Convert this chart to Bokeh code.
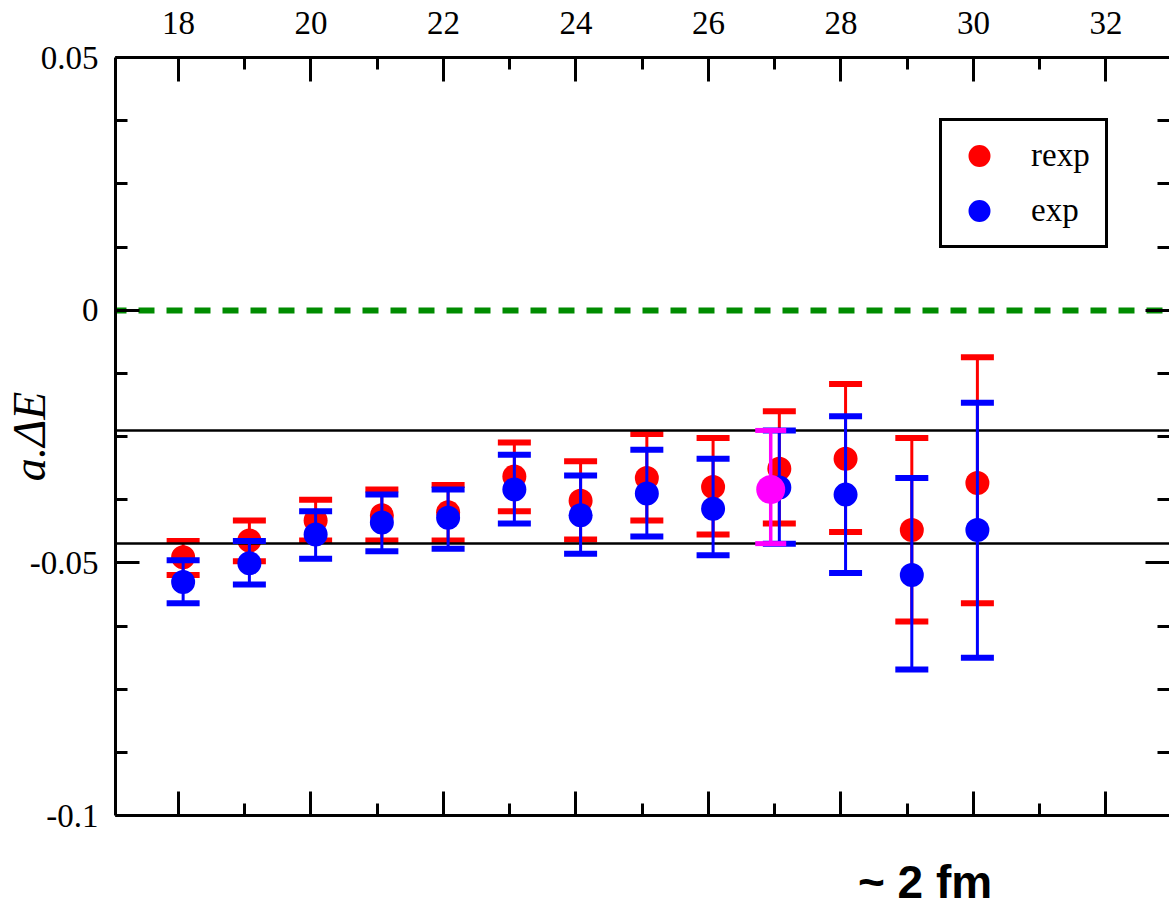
from bokeh.plotting import figure
from bokeh.models import Range1d, LinearAxis, FixedTicker, CustomJSTickFormatter
from bokeh.embed import file_html
from bokeh.resources import INLINE

# ---------------- data ----------------
x_pts = [18.07, 19.07, 20.07, 21.07, 22.07, 23.07, 24.07, 25.07, 26.07, 27.07, 28.07, 29.07, 30.06]

rexp_y = [-0.0489, -0.0456, -0.0416, -0.0406, -0.0400, -0.0329, -0.0377, -0.0332, -0.0350, -0.0314, -0.0294, -0.0435, -0.0342]
rexp_hi = [-0.0457, -0.0416, -0.0375, -0.0355, -0.0346, -0.0262, -0.0299, -0.0245, -0.0253, -0.0200, -0.0146, -0.0253, -0.0093]
rexp_lo = [-0.0524, -0.0497, -0.0456, -0.0456, -0.0456, -0.0398, -0.0454, -0.0416, -0.0444, -0.0422, -0.0439, -0.0616, -0.0580]

exp_y = [-0.0538, -0.0501, -0.0444, -0.0420, -0.0411, -0.0355, -0.0406, -0.0363, -0.0393, -0.0351, -0.0365, -0.0524, -0.0435]
exp_hi = [-0.0495, -0.0457, -0.0398, -0.0365, -0.0355, -0.0286, -0.0327, -0.0276, -0.0294, -0.0238, -0.0210, -0.0332, -0.0183]
exp_lo = [-0.0580, -0.0543, -0.0492, -0.0477, -0.0472, -0.0422, -0.0482, -0.0448, -0.0485, -0.0462, -0.0520, -0.0711, -0.0688]

fit_x = [26.94]
fit_y = [-0.0355]
fit_hi = [-0.0238]
fit_lo = [-0.0462]

zero_line = [0.0]

x_ticks = [18, 20, 22, 24, 26, 28, 30, 32]
x_minor = [17, 19, 21, 23, 25, 27, 29, 31, 33]
y_ticks = [-0.1, -0.05, 0.0, 0.05]
y_tick_labels = ["-0.1", "-0.05", "0", "0.05"]
y_minor = [-0.1, -0.0875, -0.075, -0.0625, -0.05, -0.0375, -0.025, -0.0125, 0.0,
           0.0125, 0.025, 0.0375, 0.05]

x_lim = (17.049, 32.96)
y_lim = (-0.1, 0.05)

y_title = "a.\u0394E"
note_text = "~ 2 fm"
note_x = 29.27

# ---------------- figure ----------------
p = figure(width=1169, height=911, x_range=Range1d(*x_lim), y_range=Range1d(*y_lim),
           x_axis_location="above", output_backend="svg", toolbar_location=None,
           min_border_left=115, min_border_top=57, min_border_bottom=96, min_border_right=0)
p.grid.visible = False
p.outline_line_color = None
p.background_fill_color = "white"
p.border_fill_color = "white"

SERIF = "Liberation Serif"
blank = CustomJSTickFormatter(code="return ''")


def style_axis(ax, show_labels=True, show_line=True):
    ax.axis_line_width = 3
    ax.axis_line_color = "black" if show_line else None
    ax.major_tick_in = 24
    ax.major_tick_out = 0
    ax.minor_tick_in = 12
    ax.minor_tick_out = 0
    ax.major_tick_line_width = 3
    ax.minor_tick_line_width = 3
    ax.major_tick_line_color = "black"
    ax.minor_tick_line_color = "black"
    ax.major_label_text_font = SERIF
    ax.major_label_text_color = "black"
    ax.major_label_text_font_size = "33px"
    if show_labels:
        ax.major_label_standoff = 17
    else:
        ax.formatter = blank
        ax.major_label_standoff = 0


xt = FixedTicker(ticks=x_ticks, minor_ticks=x_minor)
yt = FixedTicker(ticks=y_ticks, minor_ticks=y_minor)

top = p.xaxis[0]
top.ticker = xt
style_axis(top)
top.major_label_standoff = 24

left = p.yaxis[0]
left.ticker = yt
left.major_label_overrides = dict(zip(y_ticks, y_tick_labels))
style_axis(left)
left.axis_label = y_title
left.axis_label_text_font = SERIF
left.axis_label_text_font_style = "italic"
left.axis_label_text_font_size = "46px"
left.axis_label_text_color = "black"
left.axis_label_standoff = -28

bottom = LinearAxis(ticker=xt)
style_axis(bottom, show_labels=False)
p.add_layout(bottom, "below")

right = LinearAxis(ticker=yt)
style_axis(right, show_labels=False, show_line=False)
p.add_layout(right, "right")

# annotation "~ 2 fm" below the frame, carried by a bare axis
note_axis = LinearAxis(ticker=FixedTicker(ticks=[note_x], minor_ticks=[]))
note_axis.axis_line_color = None
note_axis.major_tick_line_color = None
note_axis.minor_tick_line_color = None
note_axis.major_tick_in = 0
note_axis.major_tick_out = 0
note_axis.minor_tick_in = 0
note_axis.minor_tick_out = 0
note_axis.major_label_overrides = {note_x: note_text}
note_axis.major_label_text_font = "Liberation Sans"
note_axis.major_label_text_font_style = "bold"
note_axis.major_label_text_font_size = "46px"
note_axis.major_label_text_color = "black"
note_axis.major_label_standoff = 40
p.add_layout(note_axis, "below")

# ---------------- reference line at zero ----------------
p.hspan(y=zero_line, line_color="#008c00", line_width=6, line_dash="16 12", line_dash_offset=5)

RED = "#ff0000"
BLUE = "#0000ff"
MAG = "#ff00ff"

# ---------------- rexp (red) ----------------
p.segment(x0=x_pts, y0=rexp_lo, x1=x_pts, y1=rexp_hi, line_color=RED, line_width=3)
p.scatter(x_pts + x_pts, rexp_hi + rexp_lo, marker="dash", size=33, line_width=6, line_color=RED)
p.scatter(x_pts, rexp_y, marker="circle", size=24, fill_color=RED, line_color=None,
          legend_label="rexp")

# band lines from the plateau fit
p.hspan(y=fit_lo + fit_hi, line_color="black", line_width=2.5)

# ---------------- exp (blue) ----------------
p.segment(x0=x_pts, y0=exp_lo, x1=x_pts, y1=exp_hi, line_color=BLUE, line_width=3)
p.scatter(x_pts + x_pts, exp_hi + exp_lo, marker="dash", size=33, line_width=6, line_color=BLUE)
p.scatter(x_pts, exp_y, marker="circle", size=24, fill_color=BLUE, line_color=None,
          legend_label="exp")

# ---------------- fit point (magenta) ----------------
p.segment(x0=fit_x, y0=fit_lo, x1=fit_x, y1=fit_hi, line_color=MAG, line_width=3.5)
p.scatter(fit_x + fit_x, fit_hi + fit_lo, marker="dash", size=31, line_width=5, line_color=MAG)
p.scatter(fit_x, fit_y, marker="circle", size=29, fill_color=MAG, line_color=None)

# ---------------- legend ----------------
lg = p.legend[0]
lg.location = "top_right"
lg.margin = 61
lg.border_line_color = "black"
lg.border_line_alpha = 1.0
lg.border_line_width = 3
lg.background_fill_color = "white"
lg.background_fill_alpha = 1.0
lg.padding = 7
lg.spacing = 0
lg.glyph_width = 60
lg.glyph_height = 55
lg.label_height = 55
lg.label_width = 67
lg.label_standoff = 22
lg.label_text_font = SERIF
lg.label_text_font_size = "33px"
lg.label_text_color = "black"

open("out.html", "w").write(file_html(p, INLINE))
